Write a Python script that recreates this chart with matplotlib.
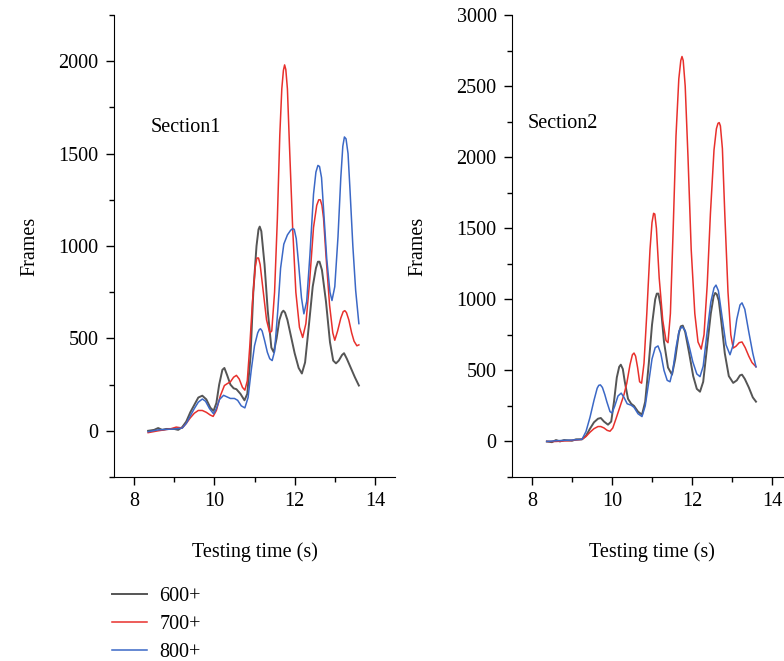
import matplotlib
matplotlib.use('Agg')
import matplotlib.pyplot as plt
from matplotlib.ticker import MultipleLocator

plt.rcParams['font.family'] = ['Liberation Serif', 'DejaVu Serif']
plt.rcParams['font.size'] = 14.5

# ---- Section1 ----
s1_x_600 = [8.35, 8.5, 8.6, 8.7, 8.8, 9.0, 9.1, 9.2, 9.3, 9.4, 9.5, 9.6, 9.7, 9.8, 9.9, 9.98,
            10.05, 10.12, 10.2, 10.25, 10.32, 10.4, 10.48, 10.55, 10.65, 10.75, 10.82, 10.9,
            10.97, 11.05, 11.1, 11.13, 11.17, 11.25, 11.33, 11.42, 11.48, 11.55, 11.62, 11.68,
            11.72, 11.76, 11.82, 11.9, 12.0, 12.1, 12.18, 12.26, 12.35, 12.45, 12.53, 12.58,
            12.62, 12.68, 12.78, 12.88, 12.96, 13.03, 13.1, 13.18, 13.23, 13.3, 13.4, 13.5, 13.6]
s1_y_600 = [0, 5, 15, 5, 10, 10, 5, 20, 50, 100, 140, 180, 190, 170, 125, 108,
            150, 250, 330, 340, 300, 250, 230, 225, 200, 165, 200, 400,
            750, 1000, 1090, 1105, 1080, 900, 650, 450, 425, 500, 600, 640,
            650, 640, 600, 520, 420, 340, 310, 370, 560, 780, 880, 915,
            915, 870, 700, 480, 380, 365, 380, 410, 420, 390, 340, 290, 245]

s1_x_700 = [8.35, 8.6, 8.9, 9.05, 9.2, 9.3, 9.4, 9.5, 9.6, 9.7, 9.8, 9.9, 9.97, 10.05, 10.15,
            10.25, 10.32, 10.4, 10.48, 10.55, 10.62, 10.7, 10.76, 10.82, 10.88, 10.95, 11.02,
            11.06, 11.1, 11.14, 11.22, 11.3, 11.38, 11.43, 11.5, 11.57, 11.63, 11.68, 11.72,
            11.75, 11.78, 11.82, 11.87, 11.95, 12.03, 12.12, 12.2, 12.28, 12.37, 12.47, 12.55,
            12.6, 12.64, 12.68, 12.72, 12.78, 12.87, 12.95, 13.0, 13.07, 13.15, 13.21, 13.25,
            13.29, 13.35, 13.42, 13.48, 13.55, 13.6]
s1_y_700 = [-10, 0, 10, 20, 15, 40, 70, 95, 110, 110, 100, 85, 78, 110, 190,
            245, 255, 265, 290, 300, 280, 235, 220, 270, 450, 700, 890,
            935, 935, 900, 750, 600, 530, 540, 750, 1150, 1600, 1850, 1950,
            1980, 1955, 1850, 1550, 1100, 750, 560, 505, 580, 800, 1100, 1220,
            1250, 1250, 1220, 1150, 950, 680, 530, 490, 540, 610, 645, 650,
            640, 600, 530, 485, 460, 465]

s1_x_800 = [8.35, 8.6, 9.0, 9.2, 9.3, 9.4, 9.5, 9.6, 9.7, 9.78, 9.88, 9.98, 10.05, 10.13,
            10.23, 10.3, 10.4, 10.5, 10.58, 10.67, 10.76, 10.84, 10.92, 11.0, 11.08, 11.12,
            11.15, 11.19, 11.25, 11.32, 11.38, 11.44, 11.5, 11.58, 11.65, 11.73, 11.82, 11.9,
            11.95, 11.99, 12.04, 12.1, 12.17, 12.23, 12.3, 12.38, 12.47, 12.53, 12.58, 12.62,
            12.67, 12.72, 12.8, 12.88, 12.93, 13.0, 13.08, 13.15, 13.2, 13.24, 13.28, 13.33,
            13.38, 13.45, 13.52, 13.6]
s1_y_800 = [-5, 5, 10, 15, 40, 80, 120, 155, 172, 160, 120, 92, 120, 170,
            192, 185, 175, 175, 165, 135, 124, 180, 330, 460, 530, 548,
            552, 540, 490, 425, 390, 380, 430, 650, 880, 1010, 1060, 1085,
            1094, 1090, 1040, 900, 720, 633, 700, 950, 1280, 1400, 1436, 1430,
            1370, 1200, 930, 750, 705, 780, 1050, 1370, 1540, 1590, 1580, 1500,
            1300, 1000, 760, 580]

# ---- Section2 ----
s2_x_600 = [8.37, 8.5, 8.6, 8.7, 8.8, 9.0, 9.1, 9.25, 9.35, 9.45, 9.55, 9.65, 9.72, 9.8, 9.9,
            9.98, 10.05, 10.12, 10.18, 10.22, 10.27, 10.32, 10.4, 10.48, 10.55, 10.65, 10.75,
            10.83, 10.92, 11.0, 11.08, 11.12, 11.16, 11.22, 11.3, 11.4, 11.5, 11.58, 11.67,
            11.72, 11.77, 11.83, 11.93, 12.03, 12.12, 12.2, 12.28, 12.37, 12.47, 12.54, 12.58,
            12.62, 12.67, 12.73, 12.82, 12.92, 13.03, 13.12, 13.2, 13.25, 13.32, 13.42, 13.52, 13.6]
s2_y_600 = [0, -5, 10, 0, 10, 5, 15, 15, 40, 90, 135, 160, 165, 140, 118,
            140, 280, 450, 525, 540, 510, 420, 300, 265, 250, 210, 188,
            280, 550, 820, 1000, 1040, 1040, 950, 700, 520, 470, 580, 760,
            810, 815, 770, 620, 460, 370, 350, 420, 650, 900, 1020, 1045,
            1035, 990, 850, 620, 460, 412, 430, 465, 470, 440, 380, 310, 280]

s2_x_700 = [8.37, 8.6, 8.9, 9.1, 9.25, 9.35, 9.45, 9.55, 9.65, 9.72, 9.8, 9.88, 9.95, 10.02,
            10.1, 10.2, 10.3, 10.37, 10.45, 10.51, 10.55, 10.59, 10.64, 10.69, 10.74, 10.8,
            10.87, 10.95, 11.0, 11.04, 11.07, 11.11, 11.18, 11.27, 11.35, 11.4, 11.46, 11.53,
            11.6, 11.67, 11.72, 11.75, 11.78, 11.83, 11.9, 11.98, 12.07, 12.15, 12.23, 12.3,
            12.38, 12.46, 12.55, 12.61, 12.65, 12.68, 12.71, 12.76, 12.82, 12.9, 12.97, 13.03,
            13.1, 13.18, 13.25, 13.33, 13.42, 13.5, 13.6]
s2_y_700 = [0, 0, 5, 10, 15, 35, 65, 90, 105, 105, 95, 78, 72, 95,
            160, 245, 330, 410, 540, 610, 622, 600, 520, 420, 410, 550,
            900, 1350, 1540, 1605, 1600, 1500, 1150, 850, 710, 695, 900, 1500,
            2150, 2550, 2680, 2708, 2680, 2500, 2000, 1350, 900, 700, 650, 750,
            1100, 1600, 2050, 2200, 2238, 2243, 2220, 2060, 1600, 1050, 750, 657,
            670, 695, 700, 660, 600, 555, 525]

s2_x_800 = [8.37, 8.6, 9.0, 9.25, 9.35, 9.45, 9.55, 9.63, 9.67, 9.71, 9.76, 9.82, 9.87, 9.95,
            10.0, 10.07, 10.15, 10.23, 10.3, 10.38, 10.48, 10.55, 10.65, 10.75, 10.83, 10.92,
            11.0, 11.08, 11.15, 11.22, 11.3, 11.38, 11.45, 11.52, 11.6, 11.68, 11.75, 11.83,
            11.92, 12.02, 12.12, 12.2, 12.28, 12.37, 12.47, 12.55, 12.6, 12.66, 12.75, 12.85,
            12.95, 13.03, 13.12, 13.2, 13.25, 13.32, 13.42, 13.52, 13.6]
s2_y_800 = [0, 5, 10, 15, 70, 170, 290, 375, 395, 398, 380, 330, 280, 210,
            200, 250, 320, 340, 310, 265, 255, 240, 195, 175, 250, 420,
            580, 660, 672, 620, 500, 430, 420, 500, 660, 780, 808, 780,
            680, 560, 475, 456, 530, 750, 980, 1080, 1100, 1060, 880, 680,
            610, 680, 860, 960, 975, 930, 770, 620, 525]

labels = ['600+', '700+', '800+']
colors = ['#555555', '#e8302c', '#3b68c6']

fig = plt.figure(figsize=(7.84, 6.61), dpi=100)
ax1 = fig.add_axes([114 / 784, 1 - 477 / 661, 281 / 784, 462 / 661])
ax2 = fig.add_axes([512 / 784, 1 - 477 / 661, 280 / 784, 462 / 661])

sections = [
    (ax1, [(s1_x_600, s1_y_600), (s1_x_700, s1_y_700), (s1_x_800, s1_y_800)]),
    (ax2, [(s2_x_600, s2_y_600), (s2_x_700, s2_y_700), (s2_x_800, s2_y_800)]),
]
for ax, series in sections:
    for (xs, ys), lab, c in zip(series, labels, colors):
        ax.plot(xs, ys, color=c, lw=1.1 if c != '#555555' else 1.4, label=lab)
    ax.spines['top'].set_visible(False)
    ax.spines['right'].set_visible(False)
    ax.set_xlim(7.5, 14.5)
    ax.xaxis.set_major_locator(MultipleLocator(2))
    ax.xaxis.set_minor_locator(MultipleLocator(1))
    ax.yaxis.set_major_locator(MultipleLocator(500))
    ax.yaxis.set_minor_locator(MultipleLocator(250))
    ax.tick_params(which='major', direction='out', length=6, width=1, pad=5)
    ax.tick_params(which='minor', direction='out', length=3.5, width=1)
    ax.set_xlabel('Testing time (s)', labelpad=22)

ax1.set_ylabel('Frames', labelpad=14)
ax2.set_ylabel('Frames', labelpad=21)
ax1.set_ylim(-250, 2250)
ax2.set_ylim(-250, 3000)
ax1.text(8.42, 1640, 'Section1', va='center')
ax2.text(7.9, 2237, 'Section2', va='center')

handles, labs = ax1.get_legend_handles_labels()
fig.legend(handles, labs, loc='upper left', bbox_to_anchor=(112 / 784, 1 - 587 / 661),
           frameon=False, borderpad=0, borderaxespad=0, handlelength=1.75,
           handletextpad=0.6, labelspacing=0.44)

fig.savefig('out.png', dpi=100)
